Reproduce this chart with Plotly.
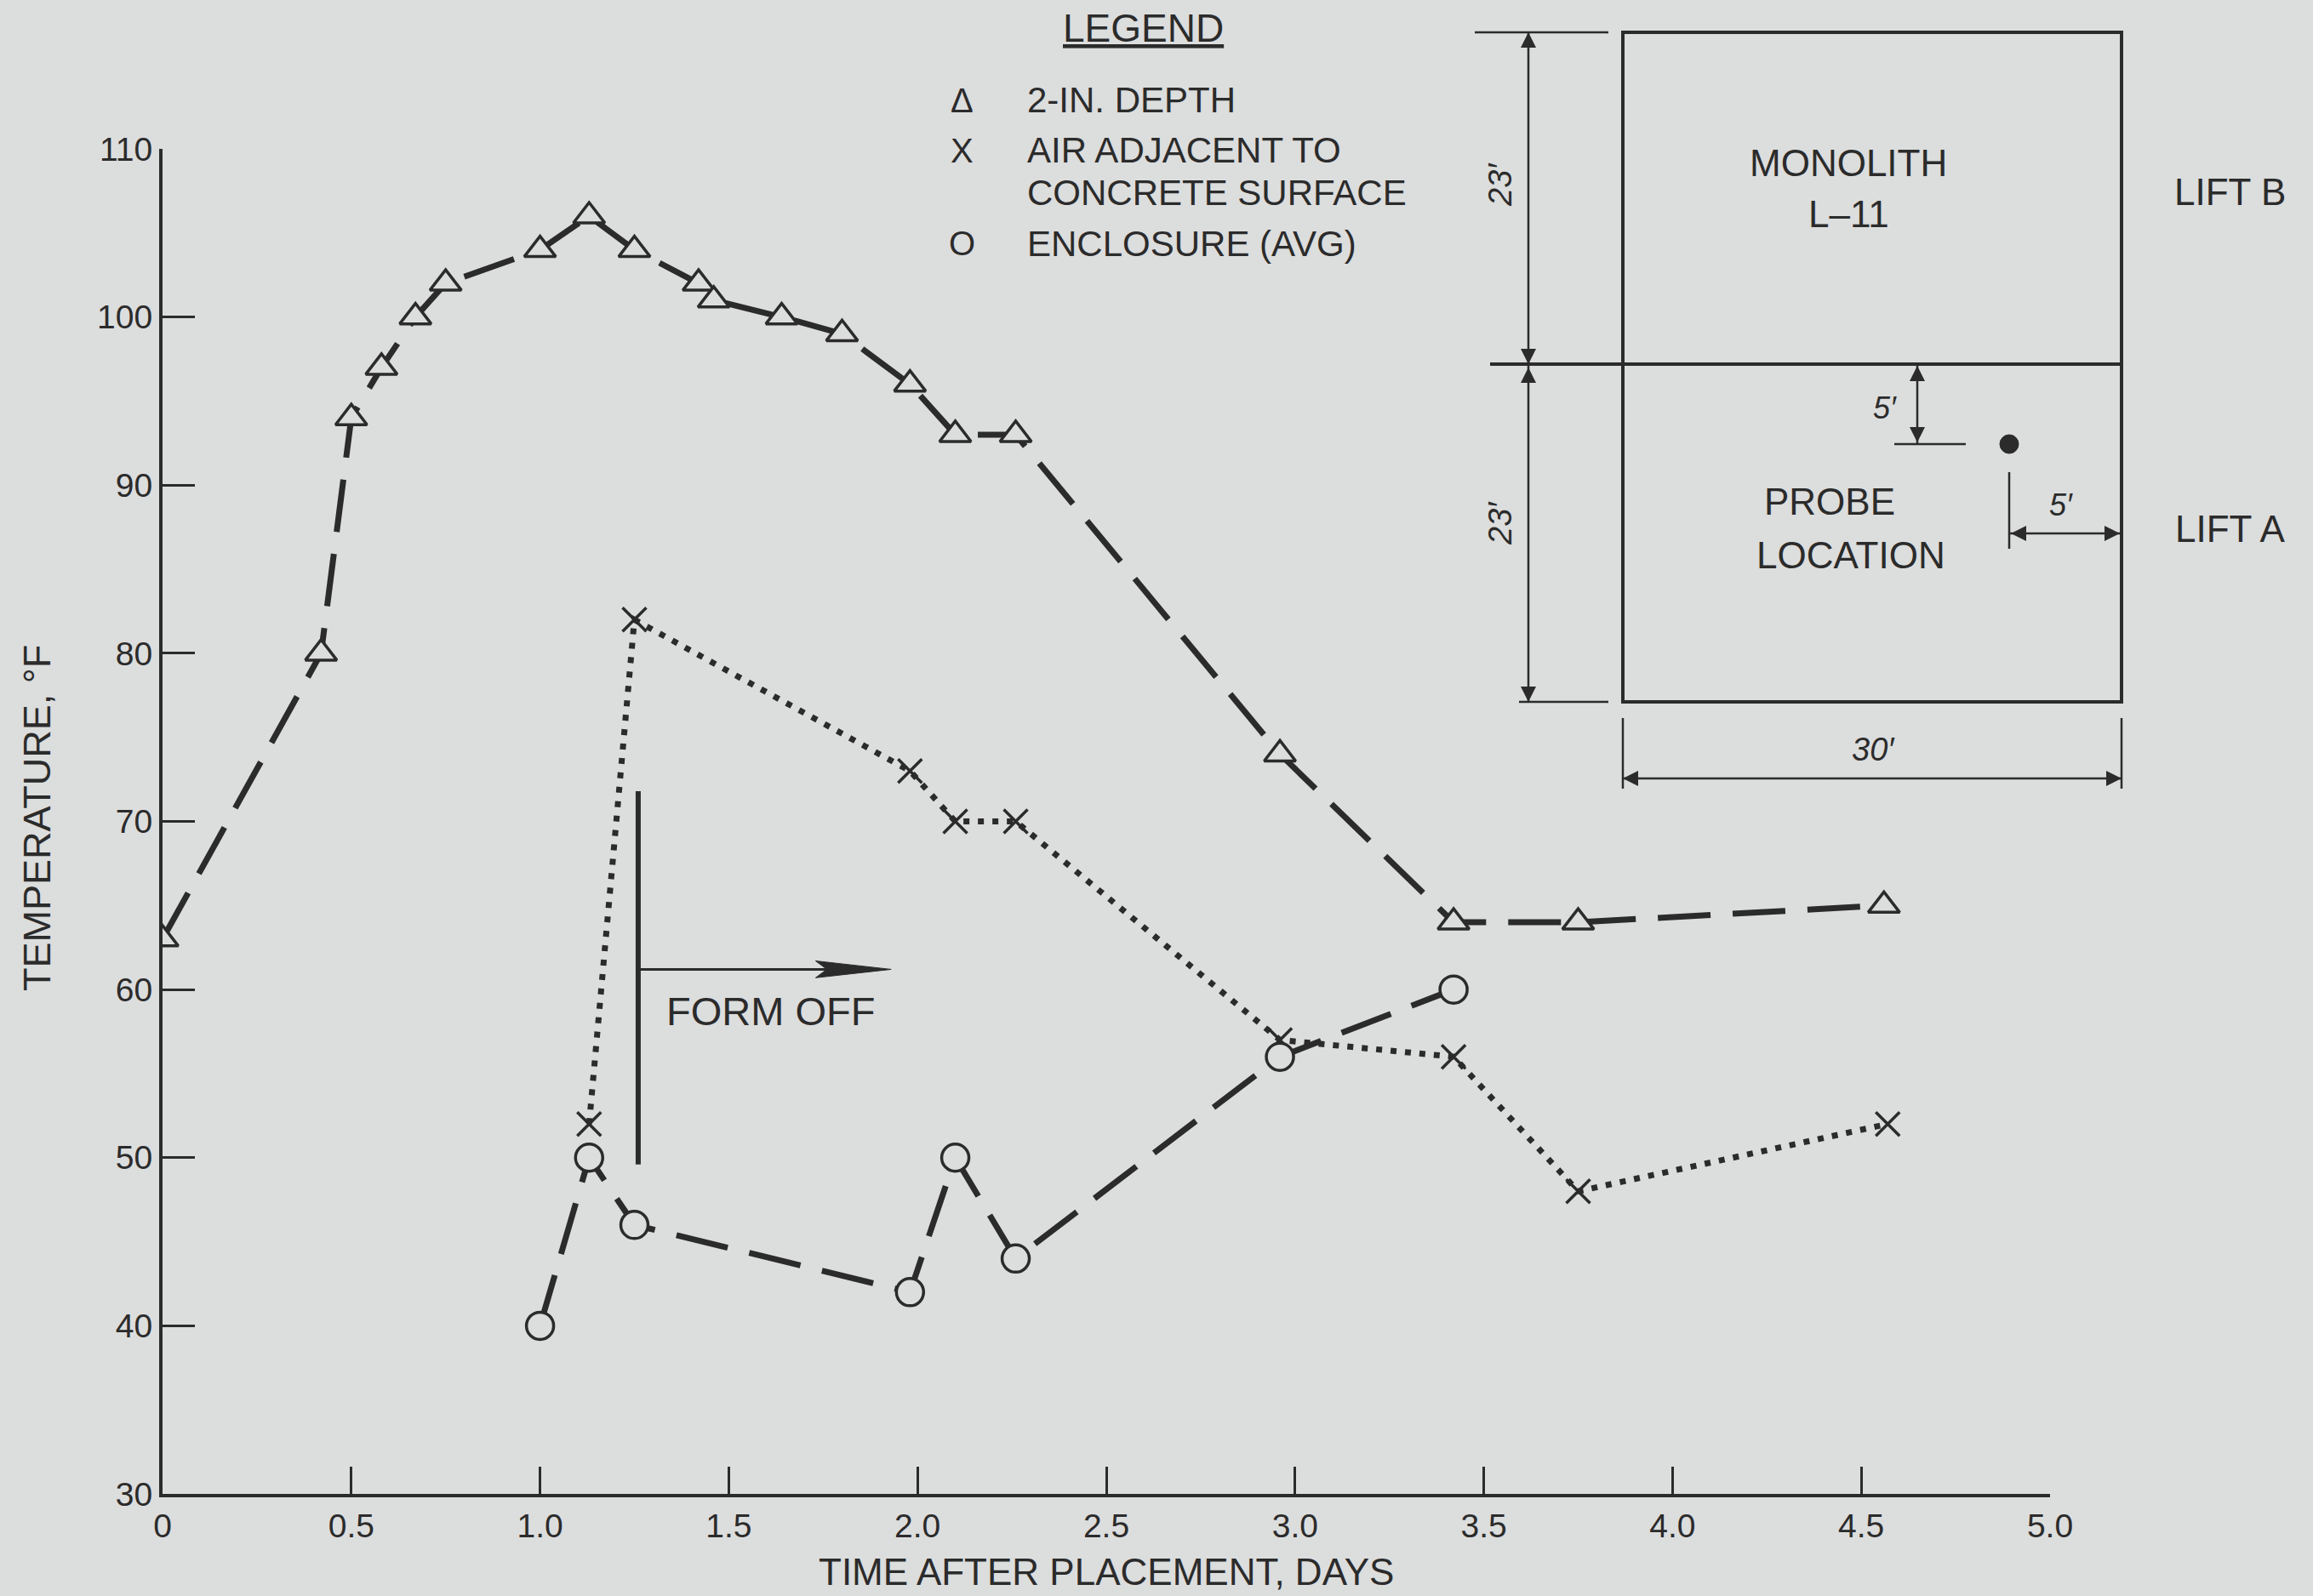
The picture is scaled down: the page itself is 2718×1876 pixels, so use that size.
import plotly.graph_objects as go

# 2-in. depth (triangles)
depth_days = [0, 0.42, 0.50, 0.58, 0.67, 0.75, 1.0, 1.13, 1.25, 1.42, 1.46, 1.64, 1.80, 1.98, 2.10, 2.26, 2.96, 3.42, 3.75, 4.56]
depth_temp = [63, 80, 94, 97, 100, 102, 104, 106, 104, 102, 101, 100, 99, 96, 93, 93, 74, 64, 64, 65]

# air adjacent to concrete surface (x)
air_days = [1.13, 1.25, 1.98, 2.10, 2.26, 2.96, 3.42, 3.75, 4.57]
air_temp = [52, 82, 73, 70, 70, 57, 56, 48, 52]

# enclosure average (circles)
encl_days = [1.0, 1.13, 1.25, 1.98, 2.10, 2.26, 2.96, 3.42]
encl_temp = [40, 50, 46, 42, 50, 44, 56, 60]

x_ticks = [0, 0.5, 1.0, 1.5, 2.0, 2.5, 3.0, 3.5, 4.0, 4.5, 5.0]
x_labels = ["0", "0.5", "1.0", "1.5", "2.0", "2.5", "3.0", "3.5", "4.0", "4.5", "5.0"]
y_ticks = [30, 40, 50, 60, 70, 80, 90, 100, 110]

form_off_day = 1.26
form_off_span = [49.6, 71.8]
form_off_arrow = [61.2, 1.93]

W, H = 2718, 1876
L, R, T, B = 191, 309, 175, 120
BG = "#dcdddd"
INK = "#2b2b2b"
FONT = "Liberation Sans, Arial, sans-serif"


def px(x):
    return (x - L) / (W - L - R)


def py(y):
    return (H - B - y) / (H - T - B)


fig = go.Figure()

fig.add_trace(go.Scatter(
    x=depth_days, y=depth_temp, mode="lines+markers",
    line=dict(color=INK, width=7, dash="62px,26px"),
    marker=dict(symbol="triangle-up", size=32, color=BG, line=dict(color=INK, width=3.5)),
    showlegend=False, hoverinfo="skip"
))
fig.add_trace(go.Scatter(
    x=air_days, y=air_temp, mode="lines+markers",
    line=dict(color=INK, width=7, dash="7px,10px"),
    marker=dict(symbol="x-thin", size=28, color=INK, line=dict(color=INK, width=3.5)),
    showlegend=False, hoverinfo="skip"
))
fig.add_trace(go.Scatter(
    x=encl_days, y=encl_temp, mode="lines+markers",
    line=dict(color=INK, width=7, dash="62px,26px"),
    marker=dict(symbol="circle", size=32, color=BG, line=dict(color=INK, width=3.5)),
    showlegend=False, hoverinfo="skip"
))

shapes = []
annotations = []


def note(x, y, text, size, xanchor="center", angle=0):
    annotations.append(dict(xref="paper", yref="paper", x=px(x), y=py(y), text=text,
                            showarrow=False, xanchor=xanchor, yanchor="middle", textangle=angle,
                            font=dict(size=size, color=INK, family=FONT)))


# form off marker
shapes.append(dict(type="line", xref="x", yref="y", x0=form_off_day, x1=form_off_day,
                   y0=form_off_span[0], y1=form_off_span[1], line=dict(color=INK, width=6)))
ay, tip = form_off_arrow
shapes.append(dict(type="line", xref="x", yref="y", x0=form_off_day, x1=tip - 0.1, y0=ay, y1=ay,
                   line=dict(color=INK, width=3)))
shapes.append(dict(type="path", xref="x", yref="y",
                   path=f"M {tip} {ay} L {tip - 0.2} {ay + 0.5} L {tip - 0.17} {ay} L {tip - 0.2} {ay - 0.5} Z",
                   fillcolor=INK, line=dict(color=INK, width=1)))
annotations.append(dict(xref="x", yref="y", x=1.61, y=58.7, text="FORM OFF", showarrow=False,
                        xanchor="center", yanchor="middle", font=dict(size=47, color=INK, family=FONT)))

# axis titles
note(1300, 1848, "TIME AFTER PLACEMENT, DAYS", 44)
note(43, 962, "TEMPERATURE, °F", 45, angle=-90)

# legend drawn as text
note(1343, 33, "<u>LEGEND</u>", 46)
legend_rows = [("Δ", "2-IN. DEPTH", 118), ("X", "AIR ADJACENT TO", 177), ("", "CONCRETE SURFACE", 227),
               ("O", "ENCLOSURE (AVG)", 286)]
for sym, label, yy in legend_rows:
    if sym:
        note(1130, yy, sym, 40)
    note(1205, yy, label, 42, xanchor="left")


# monolith sketch
def pline(x0, y0, x1, y1, w=2.5):
    shapes.append(dict(type="line", xref="paper", yref="paper", x0=px(x0), y0=py(y0), x1=px(x1), y1=py(y1),
                       line=dict(color=INK, width=w)))


def arrow(xh, yh, xt, yt):
    annotations.append(dict(xref="paper", yref="paper", axref="pixel", ayref="pixel", x=px(xh), y=py(yh),
                            ax=xt - xh, ay=yt - yh, text="", showarrow=True, arrowhead=2, arrowsize=1.8,
                            arrowwidth=2, arrowcolor=INK))


shapes.append(dict(type="rect", xref="paper", yref="paper", x0=px(1907), x1=px(2493), y0=py(38), y1=py(825),
                   line=dict(color=INK, width=4)))
pline(1751, 428, 2493, 428, 4)
pline(1733, 38, 1890, 38)
pline(1785, 825, 1890, 825)
pline(1796, 38, 1796, 825)
arrow(1796, 38, 1796, 200)
arrow(1796, 428, 1796, 260)
arrow(1796, 432, 1796, 600)
arrow(1796, 825, 1796, 660)
pline(1907, 844, 1907, 927)
pline(2493, 844, 2493, 927)
pline(1907, 915, 2493, 915)
arrow(1907, 915, 2150, 915)
arrow(2493, 915, 2250, 915)
pline(2253, 428, 2253, 522)
arrow(2253, 430, 2253, 480)
arrow(2253, 520, 2253, 470)
pline(2226, 522, 2310, 522)
pline(2361, 555, 2361, 645)
pline(2361, 627, 2493, 627)
arrow(2363, 627, 2430, 627)
arrow(2491, 627, 2420, 627)
shapes.append(dict(type="circle", xref="paper", yref="paper", x0=px(2350), x1=px(2372), y0=py(511), y1=py(533),
                   fillcolor=INK, line=dict(color=INK, width=1)))

sketch_text = [
    ("MONOLITH", 2172, 191, 44, 0),
    ("L–11", 2172, 251, 44, 0),
    ("LIFT B", 2621, 225, 44, 0),
    ("LIFT A", 2621, 621, 44, 0),
    ("PROBE", 2150, 589, 44, 0),
    ("LOCATION", 2175, 652, 44, 0),
    ("<i>30′</i>", 2201, 881, 38, 0),
    ("<i>5′</i>", 2215, 480, 36, 0),
    ("<i>5′</i>", 2422, 593, 36, 0),
    ("<i>23′</i>", 1763, 217, 38, -90),
    ("<i>23′</i>", 1763, 615, 38, -90),
]
for txt, xx, yy, sz, ang in sketch_text:
    note(xx, yy, txt, sz, angle=ang)

fig.update_layout(
    width=W, height=H,
    margin=dict(l=L, r=R, t=T, b=B),
    paper_bgcolor=BG, plot_bgcolor=BG,
    shapes=shapes, annotations=annotations,
    xaxis=dict(range=[0, 5], tickvals=x_ticks, ticktext=x_labels, showline=True, linewidth=4, linecolor=INK,
               ticks="inside", ticklen=32, tickwidth=3, tickcolor=INK, showgrid=False, zeroline=False,
               tickfont=dict(size=39, color=INK, family=FONT)),
    yaxis=dict(range=[30, 110], tickvals=y_ticks, showline=True, linewidth=4, linecolor=INK,
               ticks="inside", ticklen=38, tickwidth=3, tickcolor=INK, showgrid=False, zeroline=False,
               tickfont=dict(size=39, color=INK, family=FONT)),
)

fig.write_html("out.html", config={"displayModeBar": False},
               post_script="document.body.style.margin='0';")
